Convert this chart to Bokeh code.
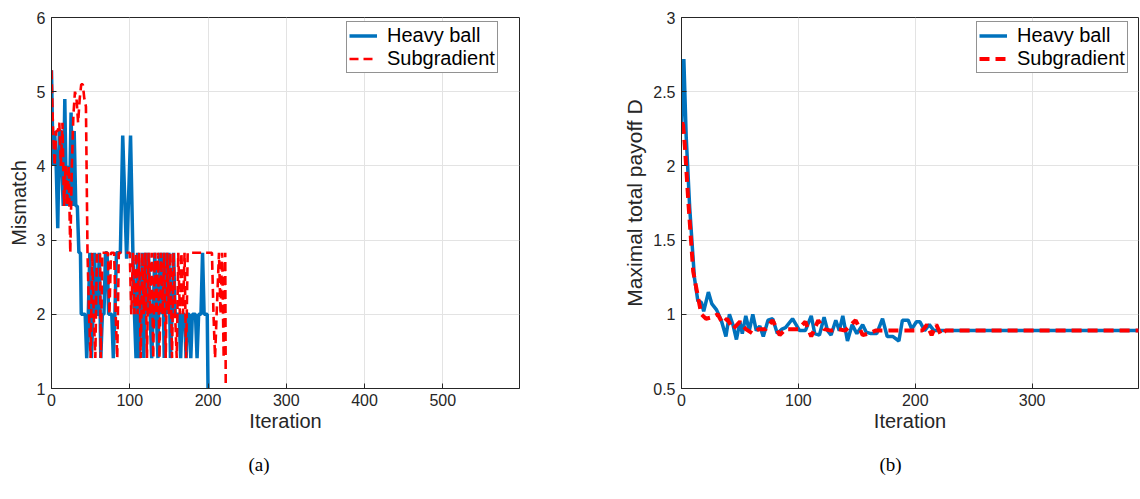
from bokeh.plotting import figure
from bokeh.models import Range1d, FixedTicker, Legend, LegendItem, Title
from bokeh.layouts import row
from bokeh.embed import file_html
from bokeh.resources import INLINE

BLUE = "#0072BD"
RED = "#FF0000"
FONT = "Liberation Sans"
TXT = "#262626"

# ---------------- data: panel (a) Mismatch ----------------
hb_iter_a = [0, 2, 4, 6, 8, 10, 12, 13, 15, 17, 19, 21, 23, 25, 27, 29, 31, 33, 35, 37, 38, 40, 43,
             45, 47, 49, 51, 53, 55, 57, 59, 61, 63, 65, 67, 69, 71, 73, 75, 77, 79, 81, 83, 85, 88,
             91, 96, 101, 104, 106, 108, 110, 112, 114, 116, 118, 120, 122, 124, 126, 128, 130, 132,
             134, 136, 138, 140, 142, 144, 146, 148, 150, 152, 154, 156, 158, 160, 163, 165, 167,
             170, 172, 174, 176, 178, 180, 184, 186, 188, 191, 193, 195, 199, 201]
hb_val_a = [5.29, 4.0, 4.47, 4.0, 3.16, 4.47, 4.47, 4.0, 3.46, 4.9, 3.46, 4.0, 3.46, 4.72, 3.46, 4.47,
            3.46, 3.46, 2.83, 2.83, 2.0, 2.0, 2.0, 1.41, 2.0, 2.83, 1.41, 2.0, 2.83, 2.0, 2.0, 2.83,
            1.41, 2.0, 2.0, 2.83, 2.83, 2.0, 2.0, 2.0, 1.41, 2.0, 2.83, 2.83, 2.83, 4.41, 2.75, 4.41,
            2.83, 2.0, 1.41, 2.83, 1.41, 2.0, 2.83, 1.41, 2.83, 2.0, 2.83, 2.0, 1.41, 2.0, 2.83, 2.0,
            1.41, 2.83, 2.0, 2.83, 1.41, 2.83, 2.0, 2.83, 1.41, 2.0, 2.83, 2.0, 2.0, 2.0, 1.41, 2.0,
            2.0, 1.41, 2.0, 2.0, 1.41, 2.0, 2.0, 1.41, 2.0, 2.0, 2.83, 2.0, 2.0, 0.0]

sg_iter_a = [0, 2, 4, 6, 8, 10, 12, 14, 16, 18, 20, 22, 24, 26, 28, 30, 32, 34, 36, 38, 40, 42, 44,
             46, 48, 50, 52, 54, 56, 58, 60, 62, 63, 65, 67, 70, 72, 74, 76, 78, 80, 82, 84, 86, 88,
             100, 102, 104, 106, 108, 110, 112, 114, 116, 118, 120, 122, 124, 126, 128, 130, 132,
             134, 136, 138, 140, 142, 144, 146, 148, 150, 152, 154, 156, 158, 160, 162, 164, 166,
             168, 170, 172, 174, 176, 205, 207, 209, 211, 214, 216, 218, 220, 222, 223]
sg_val_a = [5.29, 4.47, 4.0, 4.47, 4.47, 4.58, 4.0, 4.58, 3.46, 4.0, 3.46, 4.0, 2.83, 4.0, 4.69, 5.0,
            4.9, 4.58, 4.9, 5.1, 5.1, 4.9, 4.8, 2.83, 2.0, 1.41, 2.83, 2.0, 1.41, 2.83, 2.83, 2.83,
            1.41, 2.83, 2.83, 2.83, 2.83, 2.0, 2.83, 2.83, 2.83, 2.0, 1.41, 2.83, 2.83, 2.83, 2.0,
            2.83, 2.0, 2.83, 2.0, 2.83, 1.41, 2.83, 2.0, 2.83, 1.41, 2.83, 2.0, 2.83, 1.41, 2.83,
            2.0, 2.83, 1.41, 2.83, 2.0, 2.83, 1.41, 2.83, 2.0, 2.83, 1.41, 2.83, 2.0, 1.41, 2.83,
            2.0, 2.83, 2.0, 2.83, 1.41, 2.83, 2.83, 2.83, 2.0, 1.41, 2.0, 2.83, 2.0, 2.83, 1.41,
            2.83, 0.0]

# ---------------- data: panel (b) Maximal total payoff D ----------------
hb_iter_b = [0, 2, 4, 7, 11, 14, 17, 19, 23, 26, 30, 34, 38, 41, 44, 47, 50, 52, 55, 58, 61, 64,
             67, 70, 74, 78, 82, 86, 89, 95, 98, 101, 106, 111, 114, 118, 122, 125, 128, 132, 135,
             138, 142, 146, 150, 155, 158, 162, 167, 172, 176, 181, 186, 189, 194, 197, 201, 204,
             208, 212, 216, 220, 400]
hb_val_b = [2.23, 2.72, 2.2, 1.72, 1.25, 1.09, 1.08, 1.02, 1.15, 1.07, 1.03, 0.96, 0.85, 1.0, 0.93,
            0.83, 0.95, 0.87, 0.99, 0.89, 1.0, 0.89, 0.92, 0.85, 0.96, 0.97, 0.87, 0.9, 0.91, 0.97,
            0.93, 0.89, 0.89, 0.99, 0.87, 0.86, 0.98, 0.89, 0.86, 0.96, 0.89, 0.99, 0.82, 0.93,
            0.87, 0.93, 0.88, 0.87, 0.87, 0.97, 0.85, 0.85, 0.82, 0.96, 0.96, 0.9, 0.95, 0.95, 0.89,
            0.93, 0.89, 0.89, 0.89]

sg_iter_b = [0, 1, 3, 6, 10, 14, 17, 21, 26, 31, 35, 39, 44, 50, 55, 61, 66, 72, 78, 84, 89, 95,
             100, 106, 111, 117, 122, 128, 134, 140, 149, 155, 160, 166, 172, 180, 190, 200, 206,
             210, 214, 218, 222, 226, 400]
sg_val_b = [2.23, 2.31, 2.12, 1.74, 1.29, 1.12, 1.0, 0.97, 0.98, 1.0, 0.94, 0.97, 0.9, 0.95, 0.9,
            0.87, 0.9, 0.9, 0.96, 0.86, 0.9, 0.9, 0.9, 0.95, 0.85, 0.96, 0.9, 0.89, 0.9, 0.89,
            0.96, 0.86, 0.87, 0.89, 0.89, 0.89, 0.89, 0.89, 0.89, 0.93, 0.86, 0.93, 0.86, 0.89, 0.89]

xticks_a = [0, 100, 200, 300, 400, 500]
yticks_a = [1, 2, 3, 4, 5, 6]
xticks_b = [0, 100, 200, 300]
yticks_b = [0.5, 1, 1.5, 2, 2.5, 3]


def style(p, xt, yt, xlabel, ylabel, ylabel_size):
    p.outline_line_color = TXT
    p.outline_line_width = 1
    for ax in p.xaxis + p.yaxis:
        ax.axis_line_color = TXT
        ax.major_tick_line_color = TXT
        ax.major_tick_in = 5
        ax.major_tick_out = 0
        ax.minor_tick_line_color = None
        ax.major_label_text_font = FONT
        ax.major_label_text_font_size = "16px"
        ax.major_label_text_color = TXT
        ax.axis_label_text_font = FONT
        ax.axis_label_text_font_size = "20px"
        ax.axis_label_text_font_style = "normal"
        ax.axis_label_text_color = TXT
    p.xaxis.ticker = FixedTicker(ticks=xt)
    p.yaxis.ticker = FixedTicker(ticks=yt)
    p.xaxis.major_label_standoff = 5
    p.yaxis.major_label_standoff = 6
    p.xaxis.axis_label_standoff = 1
    p.yaxis.axis_label_standoff = 4
    p.xaxis.axis_label = xlabel
    p.yaxis.axis_label = ylabel
    p.yaxis.axis_label_text_font_size = ylabel_size
    p.grid.grid_line_color = "#E3E3E3"
    p.grid.grid_line_width = 1
    p.xgrid.ticker = FixedTicker(ticks=xt)
    p.ygrid.ticker = FixedTicker(ticks=yt)


def add_legend(p, r1, r2):
    leg = Legend(items=[LegendItem(label="Heavy ball", renderers=[r1]),
                        LegendItem(label="Subgradient", renderers=[r2])],
                 location=(295, 315))
    leg.label_text_font = FONT
    leg.label_text_font_size = "20px"
    leg.label_text_color = "#000000"
    leg.glyph_width = 28
    leg.glyph_height = 21
    leg.label_height = 21
    leg.label_standoff = 10
    leg.spacing = 0
    leg.padding = 2
    leg.margin = 0
    leg.border_line_color = "#262626"
    leg.border_line_width = 1
    leg.background_fill_color = "white"
    leg.background_fill_alpha = 1.0
    p.add_layout(leg, "center")


def add_caption(p, text, offset):
    t = Title(text=text, align="left", offset=offset, text_font="Liberation Serif",
              text_font_size="19px", text_font_style="normal", text_color="#000000",
              vertical_align="bottom", standoff=34)
    p.add_layout(t, "below")


# ---------------- panel (a) ----------------
p1 = figure(width=620, height=498, x_range=Range1d(0, 598), y_range=Range1d(1, 6),
            output_backend="svg", toolbar_location=None,
            min_border_left=51, min_border_right=101, min_border_top=17, min_border_bottom=110)
style(p1, xticks_a, yticks_a, "Iteration", "Mismatch", "20px")
ra1 = p1.line(hb_iter_a, hb_val_a, line_color=BLUE, line_width=3.5)
ra2 = p1.line(sg_iter_a, sg_val_a, line_color=RED, line_width=2.6, line_dash="9 5")
add_legend(p1, ra1, ra2)
add_caption(p1, "(a)", 197)

# ---------------- panel (b) ----------------
p2 = figure(width=520, height=498, x_range=Range1d(0, 391), y_range=Range1d(0.5, 3),
            output_backend="svg", toolbar_location=None,
            min_border_left=58, min_border_right=2, min_border_top=17, min_border_bottom=110)
style(p2, xticks_b, yticks_b, "Iteration", "Maximal total payoff D", "21px")
rb1 = p2.line(hb_iter_b, hb_val_b, line_color=BLUE, line_width=3.5)
rb2 = p2.line(sg_iter_b, sg_val_b, line_color=RED, line_width=4, line_dash="10 6")
add_legend(p2, rb1, rb2)
add_caption(p2, "(b)", 198)

layout = row(p1, p2)
open("out.html", "w").write(file_html(layout, INLINE))
